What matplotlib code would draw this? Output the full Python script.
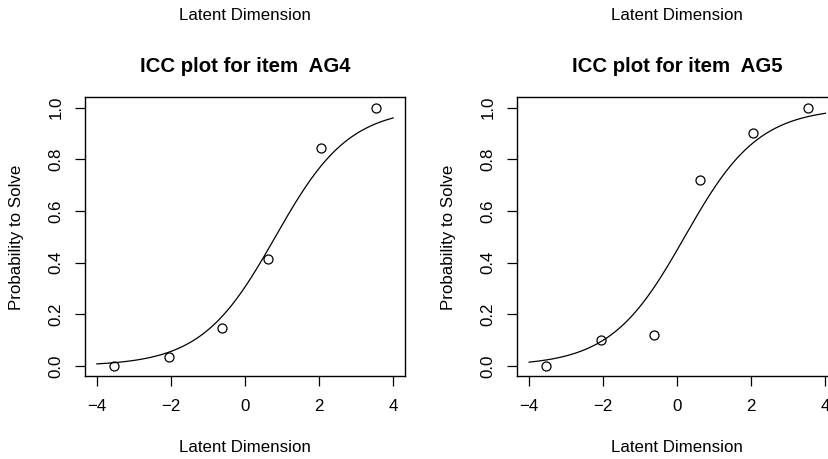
import numpy as np
import matplotlib
matplotlib.use("Agg")
import matplotlib.pyplot as plt

plt.rcParams['font.family'] = ['Liberation Sans', 'DejaVu Sans']

# Data
items = ["AG4", "AG5"]
theta_groups = [-3.55, -2.05, -0.62, 0.62, 2.05, 3.53]
observed = {
    "AG4": [0.0, 0.034, 0.146, 0.415, 0.845, 1.0],
    "AG5": [0.0, 0.10, 0.12, 0.721, 0.903, 1.0],
}
difficulty = {"AG4": 0.82, "AG5": 0.20}
x_ticks = [-4, -2, 0, 2, 4]
y_ticks = [0.0, 0.2, 0.4, 0.6, 0.8, 1.0]

W, H = 829, 459
fig = plt.figure(figsize=(W / 100, H / 100), dpi=100)

def px(x0, y0, x1, y1):
    return [x0 / W, 1 - y1 / H, (x1 - x0) / W, (y1 - y0) / H]

box_lefts = [85, 517.3]
box_w = 320
top, bottom = 97.3, 376.3
fs = 12.2

for item, bl in zip(items, box_lefts):
    ax = fig.add_axes(px(bl, top, bl + box_w, bottom))
    grid = np.linspace(-4, 4, 300)
    p = 1 / (1 + np.exp(-(grid - difficulty[item])))
    ax.plot(grid, p, color='black', lw=0.9)
    ax.plot(theta_groups, observed[item], 'o', mfc='none', mec='black', ms=6.5, mew=0.9)
    ax.set_xlim(-4.32, 4.32)
    ax.set_ylim(-0.04, 1.04)
    ax.set_xticks(x_ticks)
    ax.set_xticklabels([str(t).replace('-', '\u2212') for t in x_ticks])
    ax.set_yticks(y_ticks)
    ax.set_yticklabels([f"{t:.1f}" for t in y_ticks], rotation=90, va='center')
    ax.tick_params(direction='out', length=7.5, width=0.9, labelsize=fs)
    ax.tick_params(axis='x', pad=9)
    ax.tick_params(axis='y', pad=8)
    for s in ax.spines.values():
        s.set_linewidth(1.0)
    cx = bl + box_w / 2
    fig.text(cx / W, 1 - 67 / H, f"ICC plot for item  {item}", ha='center', va='center',
             fontsize=14.7, fontweight='bold')
    fig.text(cx / W, 1 - 448 / H, "Latent Dimension", ha='center', va='center', fontsize=fs)
    fig.text(cx / W, 1 - 16 / H, "Latent Dimension", ha='center', va='center', fontsize=fs)
    fig.text((bl - 68.5) / W, 1 - 237 / H, "Probability to Solve", ha='center', va='center',
             rotation=90, fontsize=fs)

fig.savefig("out.png", dpi=100)
